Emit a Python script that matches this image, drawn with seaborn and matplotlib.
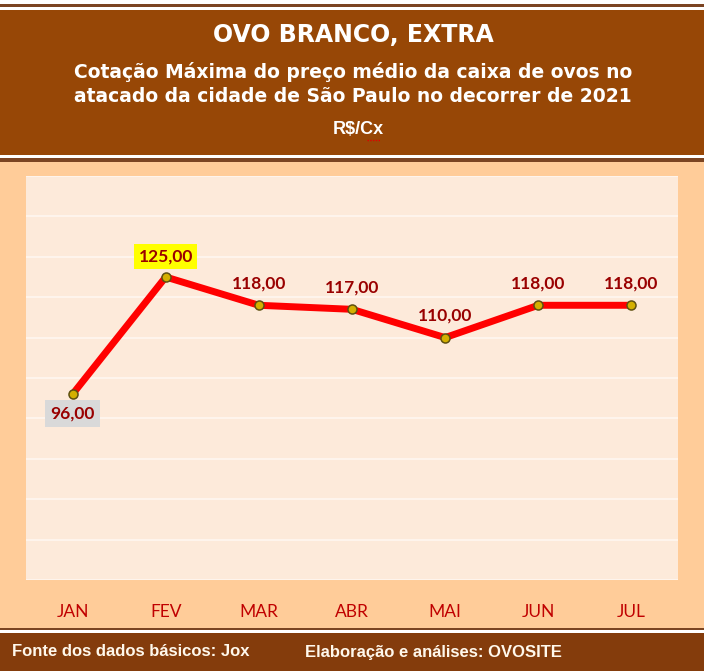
import numpy as np
import pandas as pd
import seaborn as sns
import matplotlib.pyplot as plt
from matplotlib.patches import Rectangle

meses = ['JAN', 'FEV', 'MAR', 'ABR', 'MAI', 'JUN', 'JUL']
precos = [96.0, 125.0, 118.0, 117.0, 110.0, 118.0, 118.0]
rotulos = ['96,00', '125,00', '118,00', '117,00', '110,00', '118,00', '118,00']

titulo = 'OVO BRANCO, EXTRA'
subtitulo = ('Cotação Máxima do preço médio da caixa de ovos no\n'
             'atacado da cidade de São Paulo no decorrer de 2021')
unidade = 'R$/Cx'
fonte = 'Fonte dos dados básicos: Jox'
elaboracao = 'Elaboração e análises: OVOSITE'

sns.set_style('white')
plt.rcParams['font.family'] = ['Liberation Sans', 'DejaVu Sans']

W, H = 707, 671
fig = plt.figure(figsize=(W / 100, H / 100), dpi=100, facecolor='white')


def faixa(top, bottom, color, x1=704):
    # rectangle in pixel coords measured from the top-left corner
    fig.add_artist(Rectangle((0, 1 - bottom / H), x1 / W, (bottom - top) / H,
                             transform=fig.transFigure, facecolor=color,
                             edgecolor='none', zorder=-2))


faixa(4, 7, '#7B4422')
faixa(10, 155, '#974706')
faixa(158, 162, '#7B4422')
faixa(162, 628, '#FFCC99')
faixa(628, 630, '#7B4422')
faixa(633, 671, '#843C0C')

# header texts
fig.text(353 / W, 1 - 35 / H, titulo, ha='center', va='center', color='white',
         fontsize=17, fontweight='bold', family='DejaVu Sans')
fig.text(353 / W, 1 - 84 / H, subtitulo, ha='center', va='center', color='white',
         fontsize=13.5, fontweight='bold', family='DejaVu Sans', linespacing=1.3)
fig.text(358 / W, 1 - 130 / H, unidade, ha='center', va='center', color='white',
         fontsize=13, fontweight='bold')
# spell-check squiggle under "Cx"
fig.add_artist(plt.Line2D([367 / W, 380 / W], [1 - 140 / H, 1 - 140 / H],
                          color='#E00000', linewidth=1, linestyle=(0, (1, 1))))

# footer texts
fig.text(12 / W, 1 - 652 / H, fonte, ha='left', va='center', color='#FFF8EC',
         fontsize=12, fontweight='bold')
fig.text(305 / W, 1 - 652 / H, elaboracao, ha='left', va='center', color='#FFF8EC',
         fontsize=12, fontweight='bold')

# plot area
ax = fig.add_axes([26 / W, (H - 580) / H, (678 - 26) / W, (580 - 176) / H])
ax.set_facecolor('#FDEADA')

df = pd.DataFrame({'mes': meses, 'preco': precos})
sns.lineplot(data=df, x='mes', y='preco', ax=ax, sort=False, color='#FF0000',
             linewidth=5, marker='o', markersize=6.5, markerfacecolor='#D4B000',
             markeredgecolor='#5E5010', markeredgewidth=1.1, zorder=3)

ax.set_xlim(-0.5, len(meses) - 0.5)
ax.set_ylim(50, 150)
ax.set_yticks(np.arange(50, 151, 10))
ax.set_yticklabels([])
ax.yaxis.grid(True, color='#FFF7F0', linewidth=1.2)
ax.xaxis.grid(False)
for s in ax.spines.values():
    s.set_visible(False)
ax.tick_params(axis='both', length=0)
ax.tick_params(axis='x', pad=17, labelcolor='#C00000', labelsize=12.5)
for t in ax.get_xticklabels():
    t.set_family(['Lato', 'DejaVu Sans'])
ax.set_xlabel('')
ax.set_ylabel('')

for i, (v, r) in enumerate(zip(precos, rotulos)):
    if i == 0:
        dy, box = -14, dict(boxstyle='square,pad=0.3', facecolor='#D9D9D9', edgecolor='none')
    elif i == 1:
        dy, box = 15, dict(boxstyle='square,pad=0.25', facecolor='#FFFF00', edgecolor='none')
    else:
        dy, box = 16, None
    ax.annotate(r, (i, v), xytext=(0, dy), textcoords='offset points',
                ha='center', va='center', color='#990000', fontsize=12.5,
                fontweight='bold', family=['Lato', 'DejaVu Sans'], bbox=box, zorder=4)

fig.savefig('out.png', dpi=100, facecolor='white')
